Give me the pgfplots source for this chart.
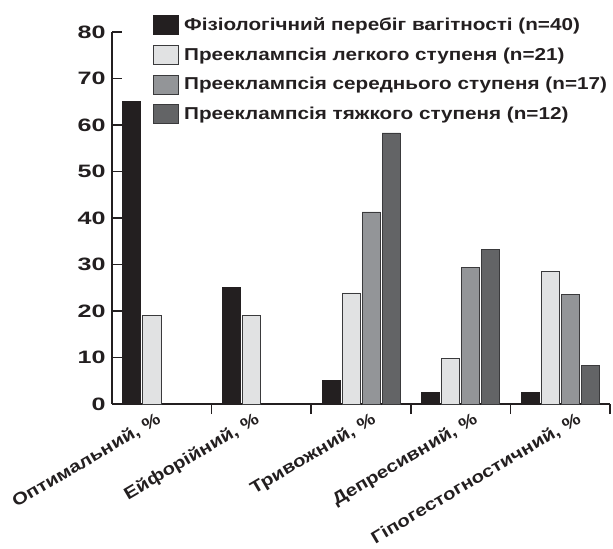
\documentclass[border=0pt]{standalone}
\usepackage{fontspec}
\setmainfont{Liberation Sans}[FakeStretch=1.2]
\newfontfamily\tickfont{Liberation Sans}[FakeStretch=1.4]
\usepackage{pgfplots}
\pgfplotsset{compat=1.18}
\definecolor{c1}{HTML}{231F20}
\definecolor{c2}{HTML}{E1E2E3}
\definecolor{c3}{HTML}{939598}
\definecolor{c4}{HTML}{636466}
\definecolor{edge}{HTML}{3A3A3C}
\pgfplotsset{
  myleg/.style={legend image code/.code={\draw[#1] (0bp,-9.5bp) rectangle (25bp,9.5bp); \path (29bp,0bp);}},
}
\begin{document}
\begin{tikzpicture}
\useasboundingbox (0,0) rectangle (613bp,549bp);
\begin{axis}[
  at={(112bp,145bp)}, anchor=south west,
  scale only axis, width=498bp, height=372bp,
  xmin=0, xmax=5, ymin=0, ymax=80,
  axis x line=bottom, axis y line=left,
  axis line style={line width=1.6bp, -, color=c1},
  every tick/.style={line width=1.6bp, color=c1},
  tick align=inside,
  major tick length=10bp,
  ytick={0,10,...,80},
  /pgf/number format/assume math mode=true,
  yticklabel style={font=\tickfont\fontsize{18}{18}\selectfont\bfseries, color=c1, xshift=-3bp},
  xtick={1,2,3,4,5},
  xticklabels={},
  extra x ticks={0.38,1.37,2.54,3.56,4.60},
  extra x tick labels={{Оптимальний, \%},{Ейфорійний, \%},{Тривожний, \%},{Депресивний, \%},{Гіпогестогностичний, \%}},
  extra x tick style={major tick length=0pt, xticklabel style={rotate=30.5, anchor=north east, font=\fontsize{17}{17}\selectfont\bfseries, color=c1, inner sep=0pt, yshift=-9bp, xshift=1bp}},
  ybar=2bp, bar width=18bp,
  legend style={at={(axis description cs:0.081,1.045)}, anchor=north west, draw=none, fill=none,
    font=\fontsize{17.3}{17.3}\selectfont\bfseries, text=c1, inner sep=0pt, row sep=10bp,
    nodes={inner sep=2bp}},
  legend cell align=left,
  clip=false,
]
\addplot[fill=c1, draw=c1, line width=0.6bp, myleg] coordinates {(0.5,65) (1.5,25) (2.5,5) (3.5,2.5) (4.5,2.5)};
\addplot[fill=c2, draw=edge, line width=0.6bp, myleg] coordinates {(0.5,19) (1.5,19) (2.5,23.9) (3.5,9.8) (4.5,28.6)};
\addplot[fill=c3, draw=edge, line width=0.6bp, myleg] coordinates {(2.5,41.3) (3.5,29.4) (4.5,23.5)};
\addplot[fill=c4, draw=edge, line width=0.6bp, myleg] coordinates {(2.5,58.3) (3.5,33.3) (4.5,8.3)};
\legend{Фізіологічний перебіг вагітності (n=40),Прееклампсія легкого ступеня (n=21),Прееклампсія середнього ступеня (n=17),Прееклампсія тяжкого ступеня (n=12)}
\end{axis}
\end{tikzpicture}
\end{document}
